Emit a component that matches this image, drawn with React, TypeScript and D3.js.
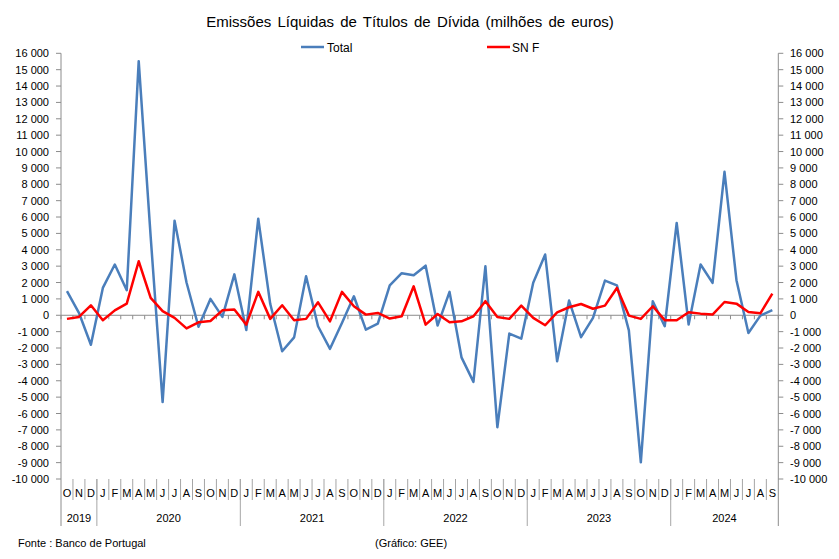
import React from "react";
import * as d3 from "d3";

const months = ["O","N","D",
  "J","F","M","A","M","J","J","A","S","O","N","D",
  "J","F","M","A","M","J","J","A","S","O","N","D",
  "J","F","M","A","M","J","J","A","S","O","N","D",
  "J","F","M","A","M","J","J","A","S","O","N","D",
  "J","F","M","A","M","J","J","A","S"];
const years = ["2019","2020","2021","2022","2023","2024"];
const yearCounts = [3, 12, 12, 12, 12, 9];

const total = [1470, 150, -1800, 1670, 3100, 1530, 15520, 4800, -5300, 5780, 2000, -700, 1000, -100, 2500,
  -900, 5900, 700, -2200, -1350, 2380, -670, -2050, -470, 1160, -880, -510,
  1830, 2570, 2440, 3030, -630, 1430, -2570, -4070, 2990, -6840, -1120, -1430,
  1980, 3710, -2810, 900, -1340, -160, 2120, 1830, -920, -8980, 860, -670,
  5640, -570, 3100, 1980, 8760, 2140, -1080, -20, 310];
const snf = [-220, -100, 610, -300, 300, 710, 3300, 1060, 250, -160, -800, -430, -350, 300, 350,
  -570, 1430, -220, 610, -300, -220, 790, -370, 1430, 550, 40, 140,
  -200, -60, 1770, -570, 80, -430, -370, -60, 860, -100, -220, 590,
  -160, -610, 180, 490, 690, 400, 590, 1670, -20, -220, 550, -300,
  -300, 180, 100, 40, 810, 710, 200, 120, 1320];
const yTicks = d3.range(-10000, 16001, 1000);

const W = 839, H = 559;
const left = 61, right = 778.3, top = 53.3, bottom = 479;
const font = "'Liberation Sans', Arial, sans-serif";

const fmt = (v: number) => (v < 0 ? "-" : "") + d3.format(",")(Math.abs(v)).replace(/,/g, " ");

export default function App() {
  const x = d3.scaleBand<number>().domain(d3.range(months.length)).range([left, right]).padding(0);
  const bw = x.bandwidth();
  const cx = (i: number) => (x(i) as number) + bw / 2;
  const y = d3.scaleLinear().domain([-10000, 16000]).range([bottom, top]);
  const line = d3.line<number>().x((_, i) => cx(i)).y((d) => y(d));
  const axisColor = "#8c8c8c";
  const sepColor = "#a6a6a6";

  let acc = 0;
  const yearBounds = [0];
  yearCounts.forEach((c) => { acc += c; yearBounds.push(acc); });

  return (
    <svg width={W} height={H} style={{ position: "absolute", left: 0, top: 0, background: "#fff" }} fontFamily={font}>
      <text x={410} y={27} textAnchor="middle" fontSize={15} wordSpacing={2} fill="#000">Emissões Líquidas de Títulos de Dívida (milhões de euros)</text>
      {/* legend */}
      <line x1={301} x2={324} y1={47} y2={47} stroke="#4a7ebb" strokeWidth={2.5} />
      <text x={327} y={51.5} fontSize={12} fill="#000">Total</text>
      <line x1={487} x2={510} y1={47} y2={47} stroke="#ff0000" strokeWidth={2.5} />
      <text x={512} y={51.5} fontSize={12} fill="#000">SN F</text>

      {/* left axis */}
      <line x1={left} x2={left} y1={top} y2={526} stroke={axisColor} strokeWidth={1} />
      {yTicks.map((t) => (
        <g key={"l" + t}>
          <line x1={left - 5} x2={left} y1={y(t)} y2={y(t)} stroke={axisColor} />
          <text x={49} y={y(t) + 4} textAnchor="end" fontSize={11} fill="#000">{fmt(t)}</text>
        </g>
      ))}
      {/* right axis */}
      <line x1={right} x2={right} y1={top} y2={526} stroke={axisColor} strokeWidth={1} />
      {yTicks.map((t) => (
        <g key={"r" + t}>
          <line x1={right} x2={right + 5} y1={y(t)} y2={y(t)} stroke={axisColor} />
          <text x={790} y={y(t) + 4} textAnchor="start" fontSize={11} fill="#000">{fmt(t)}</text>
        </g>
      ))}
      {/* zero line */}
      <line x1={left} x2={right} y1={y(0)} y2={y(0)} stroke={axisColor} strokeWidth={1} />
      {d3.range(months.length + 1).map((i) => (
        <line key={"zt" + i} x1={left + i * bw} x2={left + i * bw} y1={y(0)} y2={y(0) + 4} stroke={axisColor} />
      ))}
      {/* category labels */}
      {d3.range(1, months.length).map((i) => (
        <line key={"ms" + i} x1={left + i * bw} x2={left + i * bw} y1={bottom} y2={500} stroke={sepColor} />
      ))}
      {months.map((m, i) => (
        <text key={"m" + i} x={cx(i)} y={497} textAnchor="middle" fontSize={11} fill="#000">{m}</text>
      ))}
      {yearBounds.slice(1, -1).map((b) => (
        <line key={"ys" + b} x1={left + b * bw} x2={left + b * bw} y1={bottom} y2={526} stroke={sepColor} />
      ))}
      {years.map((yr, k) => (
        <text key={yr} x={left + ((yearBounds[k] + yearBounds[k + 1]) / 2) * bw} y={522} textAnchor="middle" fontSize={11} fill="#000">{yr}</text>
      ))}

      {/* series */}
      <path d={line(total) || ""} fill="none" stroke="#4a7ebb" strokeWidth={2.5} strokeLinejoin="round" />
      <path d={line(snf) || ""} fill="none" stroke="#ff0000" strokeWidth={2.5} strokeLinejoin="round" />

      <text x={18} y={547} fontSize={11} fill="#000">Fonte : Banco de Portugal</text>
      <text x={375} y={547} fontSize={11} fill="#000">(Gráfico: GEE)</text>
    </svg>
  );
}
